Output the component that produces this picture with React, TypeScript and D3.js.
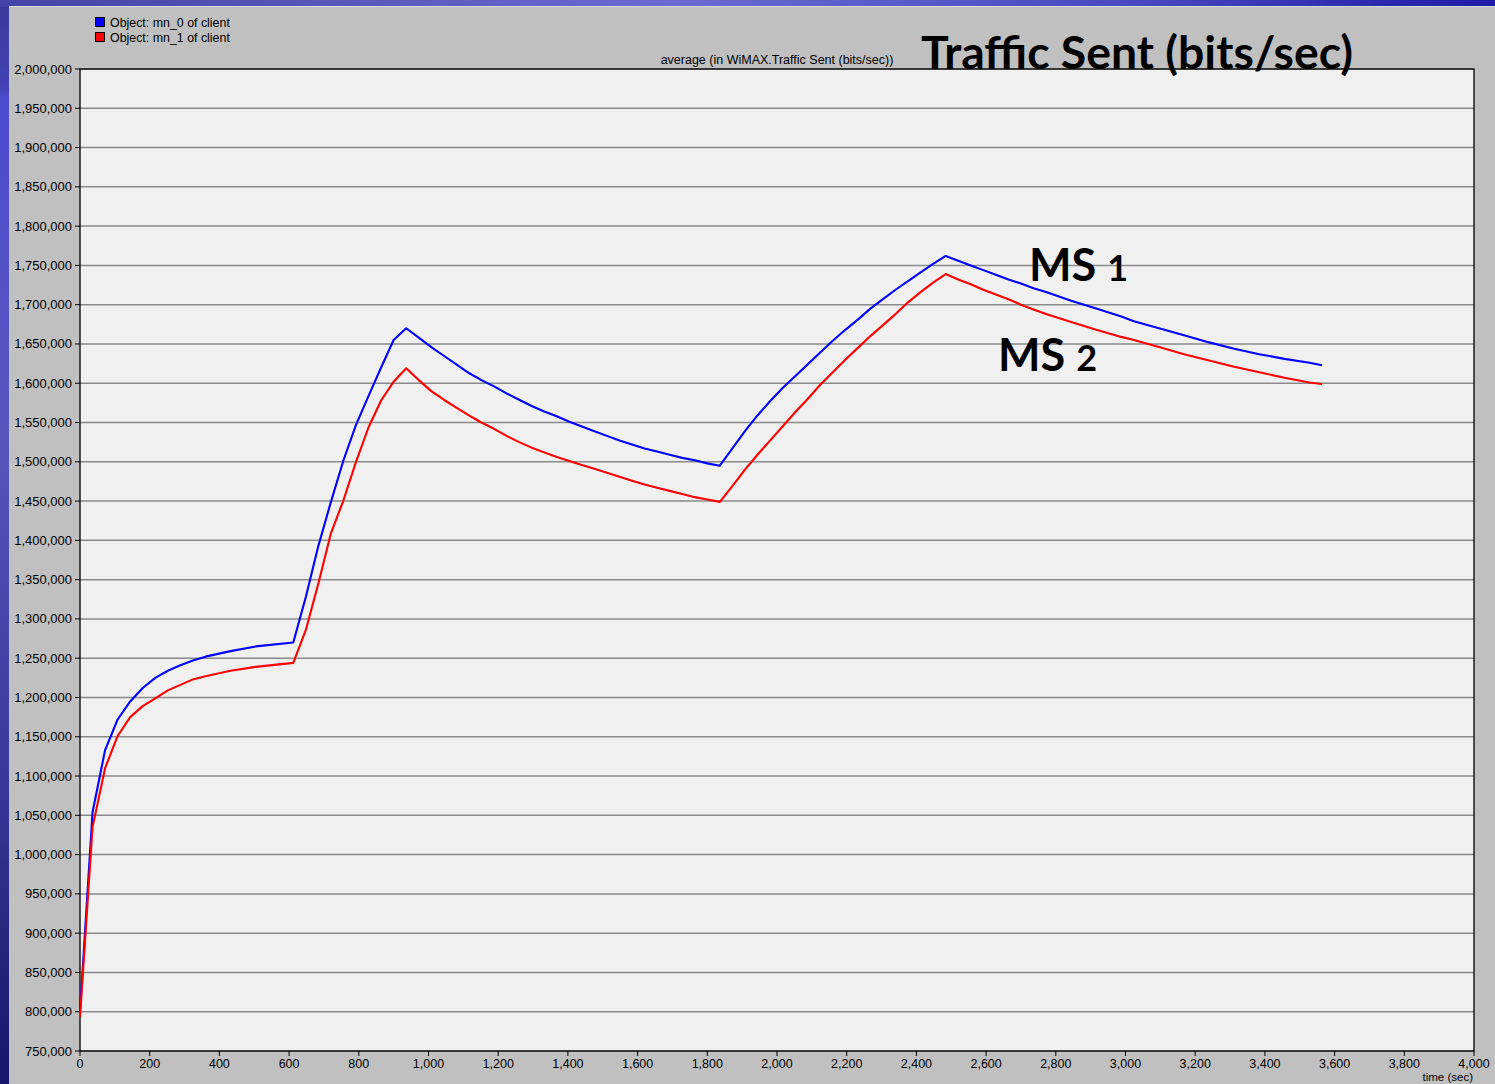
import React from "react";
import * as d3 from "d3";

const times = [0, 36, 72, 108, 144, 180, 216, 252, 288, 324, 360, 432, 504, 612, 648, 684, 720, 756, 792, 828, 864, 900, 936, 972, 1008, 1044, 1080, 1116, 1152, 1188, 1224, 1260, 1296, 1332, 1368, 1404, 1440, 1476, 1512, 1548, 1584, 1620, 1656, 1692, 1728, 1764, 1800, 1836, 1872, 1908, 1944, 1980, 2016, 2052, 2088, 2124, 2160, 2196, 2232, 2268, 2304, 2340, 2376, 2412, 2448, 2484, 2520, 2556, 2592, 2628, 2664, 2700, 2736, 2772, 2844, 2916, 2988, 3024, 3096, 3168, 3240, 3312, 3384, 3456, 3528, 3564];

const mn0 = [800000, 1054000, 1133000, 1172000, 1195000, 1212000, 1225000, 1234000, 1241000, 1247000, 1252000, 1259000, 1265000, 1270000, 1328000, 1393000, 1449000, 1502000, 1547000, 1584000, 1620000, 1655000, 1670000, 1658000, 1646000, 1635000, 1624000, 1613000, 1604000, 1596000, 1587000, 1579000, 1571000, 1564000, 1558000, 1551000, 1545000, 1539000, 1533000, 1527000, 1522000, 1517000, 1513000, 1509000, 1505000, 1502000, 1498000, 1495000, 1517000, 1539000, 1559000, 1577000, 1594000, 1609000, 1624000, 1639000, 1654000, 1668000, 1681000, 1695000, 1707000, 1719000, 1730000, 1741000, 1752000, 1762000, 1756000, 1750000, 1744000, 1738000, 1732000, 1727000, 1721000, 1716000, 1705000, 1695000, 1685000, 1679000, 1670000, 1661000, 1652000, 1644000, 1637000, 1631000, 1626000, 1623000];

const mn1 = [793000, 1035000, 1110000, 1151000, 1175000, 1189000, 1199000, 1209000, 1216000, 1223000, 1227000, 1234000, 1239000, 1244000, 1286000, 1345000, 1409000, 1451000, 1500000, 1544000, 1578000, 1602000, 1619000, 1604000, 1590000, 1579000, 1569000, 1559000, 1550000, 1542000, 1533000, 1525000, 1518000, 1512000, 1506000, 1501000, 1496000, 1491000, 1486000, 1481000, 1476000, 1471000, 1467000, 1463000, 1459000, 1455000, 1452000, 1449000, 1469000, 1490000, 1509000, 1527000, 1545000, 1563000, 1580000, 1598000, 1614000, 1630000, 1645000, 1660000, 1674000, 1688000, 1703000, 1716000, 1728000, 1739000, 1732000, 1726000, 1719000, 1713000, 1707000, 1700000, 1694000, 1688000, 1678000, 1668000, 1659000, 1655000, 1646000, 1637000, 1629000, 1621000, 1614000, 1607000, 1601000, 1599000];

const yTicks = d3.range(750000, 2000001, 50000);
const xTicks = d3.range(0, 4001, 200);
const legendLabels = ["Object: mn_0 of client", "Object: mn_1 of client"];
const seriesColors = ["#0000ff", "#ff0000"];

const W = 1495;
const H = 1084;
const L = 80, R = 1474, T = 69, B = 1051;

export default function App() {
  const x = d3.scaleLinear().domain([0, 4000]).range([L, R]);
  const y = d3.scaleLinear().domain([750000, 2000000]).range([B, T]);
  const fmt = d3.format(",");
  const line = d3
    .line<number>()
    .x((_, i) => x(times[i]))
    .y((d) => y(d));
  const series = [mn0, mn1];
  const sans = "'Liberation Sans', Arial, sans-serif";
  const big = "Lato, 'Open Sans', sans-serif";

  return (
    <svg
      width={W}
      height={H}
      style={{ position: "absolute", left: 0, top: 0, display: "block" }}
      xmlns="http://www.w3.org/2000/svg"
    >
      <defs>
        <linearGradient id="leftg" x1="0" y1="0" x2="0" y2="1">
          <stop offset="0" stopColor="#3a3a98" />
          <stop offset="0.08" stopColor="#4242b4" />
          <stop offset="0.09" stopColor="#4c4cd0" />
          <stop offset="0.4" stopColor="#5656bc" />
          <stop offset="0.7" stopColor="#3a3a9a" />
          <stop offset="1" stopColor="#16166a" />
        </linearGradient>
        <linearGradient id="topg" x1="0" y1="0" x2="1" y2="0">
          <stop offset="0" stopColor="#4444a8" />
          <stop offset="0.45" stopColor="#6a6ad0" />
          <stop offset="0.75" stopColor="#4a4ac0" />
          <stop offset="1" stopColor="#1c1ca8" />
        </linearGradient>
      </defs>
      <rect x={0} y={0} width={W} height={H} fill="url(#leftg)" />
      <rect x={0} y={0} width={W} height={7} fill="url(#topg)" />
      <rect x={9} y={6} width={W - 9} height={1} fill="#dcdcdc" />
      <rect x={9} y={7} width={W - 9} height={H - 7} fill="#c0c0c0" />

      {/* plot background */}
      <rect x={L} y={T} width={R - L} height={B - T} fill="#f0f0f0" />

      {/* gridlines */}
      {yTicks.map((t) => (
        <line key={"g" + t} x1={L} x2={R} y1={y(t)} y2={y(t)} stroke="#8a8a8a" strokeWidth={1.5} />
      ))}

      {/* frame */}
      <rect x={L} y={T} width={R - L} height={B - T} fill="none" stroke="#000" strokeWidth={1.3} />

      {/* y ticks */}
      {yTicks.map((t) => (
        <g key={"y" + t}>
          <line x1={L - 5} x2={L} y1={y(t)} y2={y(t)} stroke="#000" strokeWidth={1} />
          <text x={72} y={y(t) + 4.5} textAnchor="end" fontFamily={sans} fontSize={13} fill="#000">
            {fmt(t)}
          </text>
        </g>
      ))}

      {/* x ticks */}
      {xTicks.map((t) => (
        <g key={"x" + t}>
          <line x1={x(t)} x2={x(t)} y1={B} y2={B + 5} stroke="#000" strokeWidth={1} />
          <text x={x(t)} y={1068} textAnchor="middle" fontFamily={sans} fontSize={12.5} fill="#000">
            {fmt(t)}
          </text>
        </g>
      ))}
      <text x={1473} y={1081} textAnchor="end" fontFamily={sans} fontSize={11.5} fill="#000">
        time (sec)
      </text>

      {/* series */}
      {series.map((s, i) => (
        <path key={"s" + i} d={line(s) || ""} fill="none" stroke={seriesColors[i]} strokeWidth={2.1} strokeLinejoin="round" />
      ))}

      {/* legend */}
      {legendLabels.map((lab, i) => (
        <g key={"l" + i}>
          <rect x={95.5} y={17.5 + i * 15} width={9} height={9} fill={seriesColors[i]} stroke="#000" strokeWidth={1} />
          <text x={110} y={26.5 + i * 15} fontFamily={sans} fontSize={12.4} fill="#000">
            {lab}
          </text>
        </g>
      ))}

      {/* chart title */}
      <text x={777} y={64} textAnchor="middle" fontFamily={sans} fontSize={12.5} fill="#000">
        average (in WiMAX.Traffic Sent (bits/sec))
      </text>

      {/* slide annotations */}
      <text x={921} y={69} fontFamily={big} fontWeight="bold" fontSize={45} fill="#000" textLength={432} lengthAdjust="spacingAndGlyphs">
        Traffic Sent (bits/sec)
      </text>
      <text x={1029} y={281} fontFamily={big} fontWeight="bold" fontSize={45} fill="#000">
        MS <tspan fontSize={36}>1</tspan>
      </text>
      <text x={998} y={371} fontFamily={big} fontWeight="bold" fontSize={45} fill="#000">
        MS <tspan fontSize={36}>2</tspan>
      </text>
    </svg>
  );
}
